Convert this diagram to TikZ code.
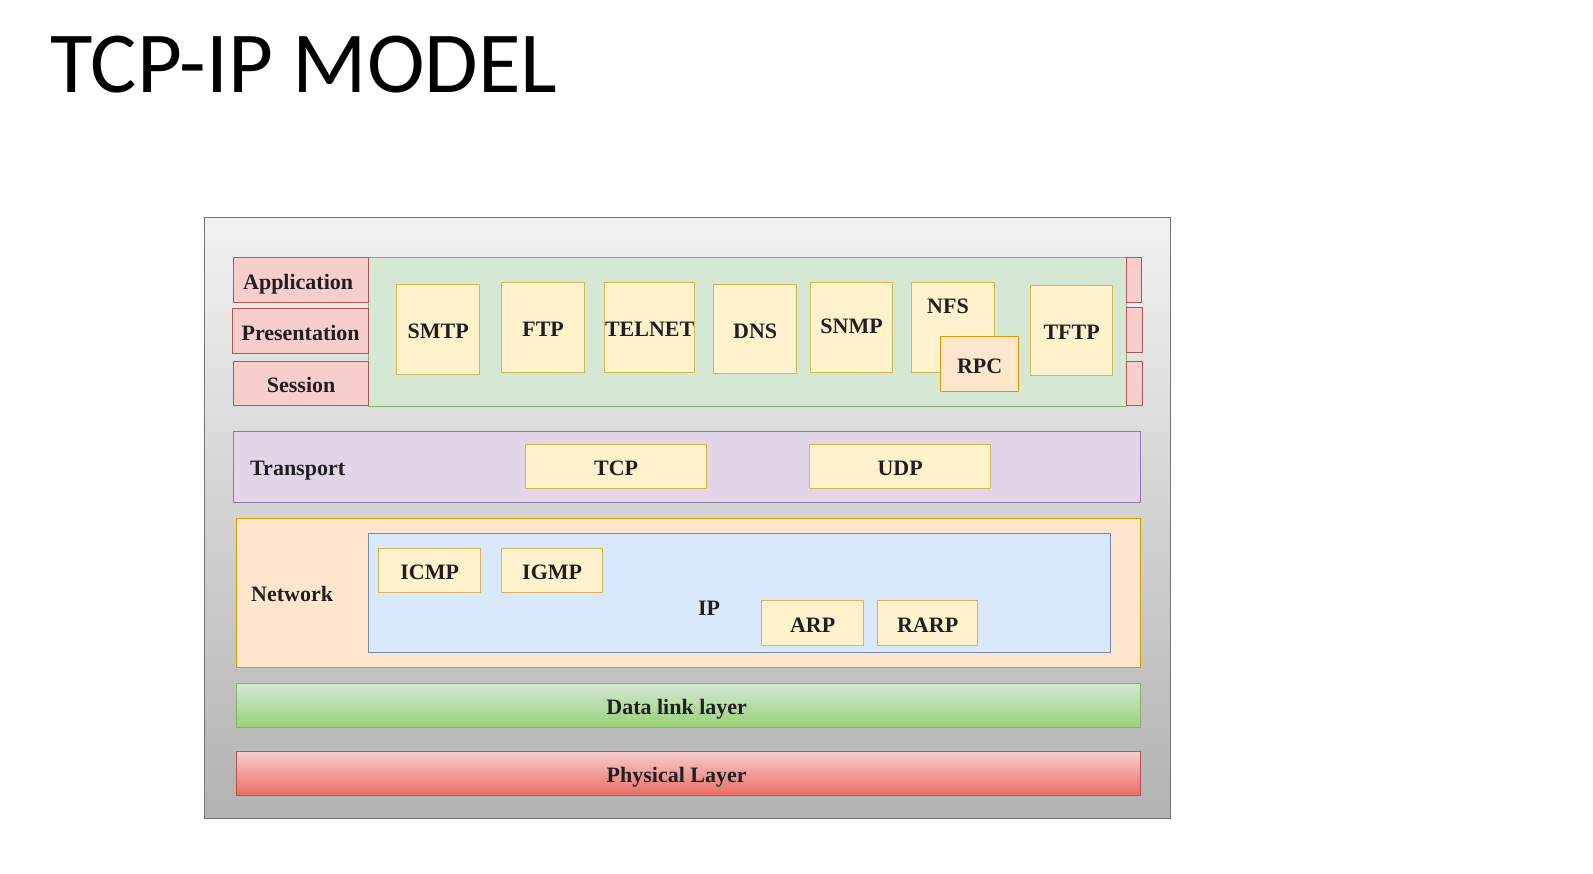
\documentclass[tikz,border=0pt]{standalone}
\usepackage{fontspec}
\setmainfont{Liberation Serif}
\newfontfamily\titlefont{Carlito}
\definecolor{pinkf}{HTML}{F8CECC}\definecolor{pinkd}{HTML}{B85450}
\definecolor{greenf}{HTML}{D5E8D4}\definecolor{greend}{HTML}{82B366}
\definecolor{yelf}{HTML}{FFF2CC}\definecolor{yeld}{HTML}{D6B656}
\definecolor{purf}{HTML}{E1D5E7}\definecolor{purd}{HTML}{9673A6}
\definecolor{orf}{HTML}{FFE6CC}\definecolor{ord}{HTML}{D79B00}
\definecolor{bluef}{HTML}{DAE8FC}\definecolor{blued}{HTML}{6C8EBF}
\definecolor{greenb}{HTML}{97D077}\definecolor{redb}{HTML}{EA6B66}
\newcommand\bx[7]{\node[#1,anchor=north west,inner sep=0pt,minimum width={#5-#3},minimum height={#6-#4}] (#2) at (#3,#4) {#7};}
\begin{document}
\begin{tikzpicture}[x=1pt,y=-1pt,
  lbl/.style={font=\fontsize{22}{24}\selectfont\bfseries, text=black!88, text height=18pt, text depth=0pt},
  base/.style={line width=1.3pt, lbl},
  pinkbox/.style={base, draw=pinkd, fill=pinkf},
  greenbox/.style={base, draw=greend, fill=greenf},
  proto/.style={base, draw=yeld, fill=yelf},
  rpcbox/.style={base, draw=ord, fill=orf},
  transbox/.style={base, draw=purd, fill=purf},
  netbox/.style={base, draw=ord, fill=orf},
  ipbox/.style={base, draw=blued, fill=bluef},
  dlbox/.style={base, draw=greend, top color=greenf, bottom color=greenb},
  phbox/.style={base, draw=pinkd, top color=pinkf, bottom color=redb},
  outerbox/.style={line width=1.3pt, draw=black!55, top color=black!5, bottom color=black!30}]
\fill[white] (0,0) rectangle (1593,873);
\useasboundingbox (0,0) rectangle (1593,873);
\node[font=\titlefont\fontsize{87}{92}\selectfont, anchor=base west, inner sep=0pt] (title) at (50,92) {TCP-IP MODEL};
\bx{outerbox}{outer}{204}{217}{1170}{818}{}
% application group
\bx{greenbox}{appgrp}{368}{257}{1126}{406}{}
\bx{pinkbox}{app}{233}{257}{368}{302}{\hspace*{-6pt}Application}
\bx{pinkbox}{pres}{232}{308}{368}{353}{Presentation}
\bx{pinkbox}{sess}{233}{361}{368}{405}{Session}
\bx{pinkbox}{r1}{1126}{257}{1141}{302}{}
\bx{pinkbox}{r2}{1126}{307}{1142}{352}{}
\bx{pinkbox}{r3}{1126}{361}{1142}{405}{}
\bx{proto}{smtp}{396}{284}{479}{374}{SMTP}
\bx{proto}{ftp}{501}{282}{584}{372}{FTP}
\bx{proto}{telnet}{604}{282}{694}{372}{TELNET}
\bx{proto}{dns}{713}{284}{796}{373}{DNS}
\bx{proto}{snmp}{810}{282}{892}{372}{\raisebox{3pt}{SNMP}}
\bx{proto}{nfs}{911}{282}{994}{372}{}
\node[lbl, inner sep=0pt] (nfst) at (948,304) {NFS};
\bx{rpcbox}{rpc}{940}{336}{1018}{391}{RPC}
\bx{proto}{tftp}{1030}{285}{1112}{375}{TFTP}
% transport
\bx{transbox}{trans}{233}{431}{1140}{502}{}
\node[lbl, anchor=west, inner sep=0pt] (transt) at (250,466) {Transport};
\bx{proto}{tcp}{525}{444}{706}{488}{TCP}
\bx{proto}{udp}{809}{444}{990}{488}{UDP}
% network
\bx{netbox}{net}{236}{518}{1140}{667}{}
\node[lbl, anchor=west, inner sep=0pt] (nett) at (251,592) {Network};
\bx{ipbox}{ip}{368}{533}{1110}{652}{}
\node[lbl, inner sep=0pt] (ipt) at (709,606) {IP};
\bx{proto}{icmp}{378}{548}{480}{592}{ICMP}
\bx{proto}{igmp}{501}{548}{602}{592}{IGMP}
\bx{proto}{arp}{761}{600}{863}{645}{ARP}
\bx{proto}{rarp}{877}{600}{977}{645}{RARP}
% lower layers
\bx{dlbox}{dl}{236}{683}{1140}{727}{\hspace*{-24pt}Data link layer}
\bx{phbox}{ph}{236}{751}{1140}{795}{\hspace*{-24pt}Physical Layer}
\end{tikzpicture}
\end{document}
